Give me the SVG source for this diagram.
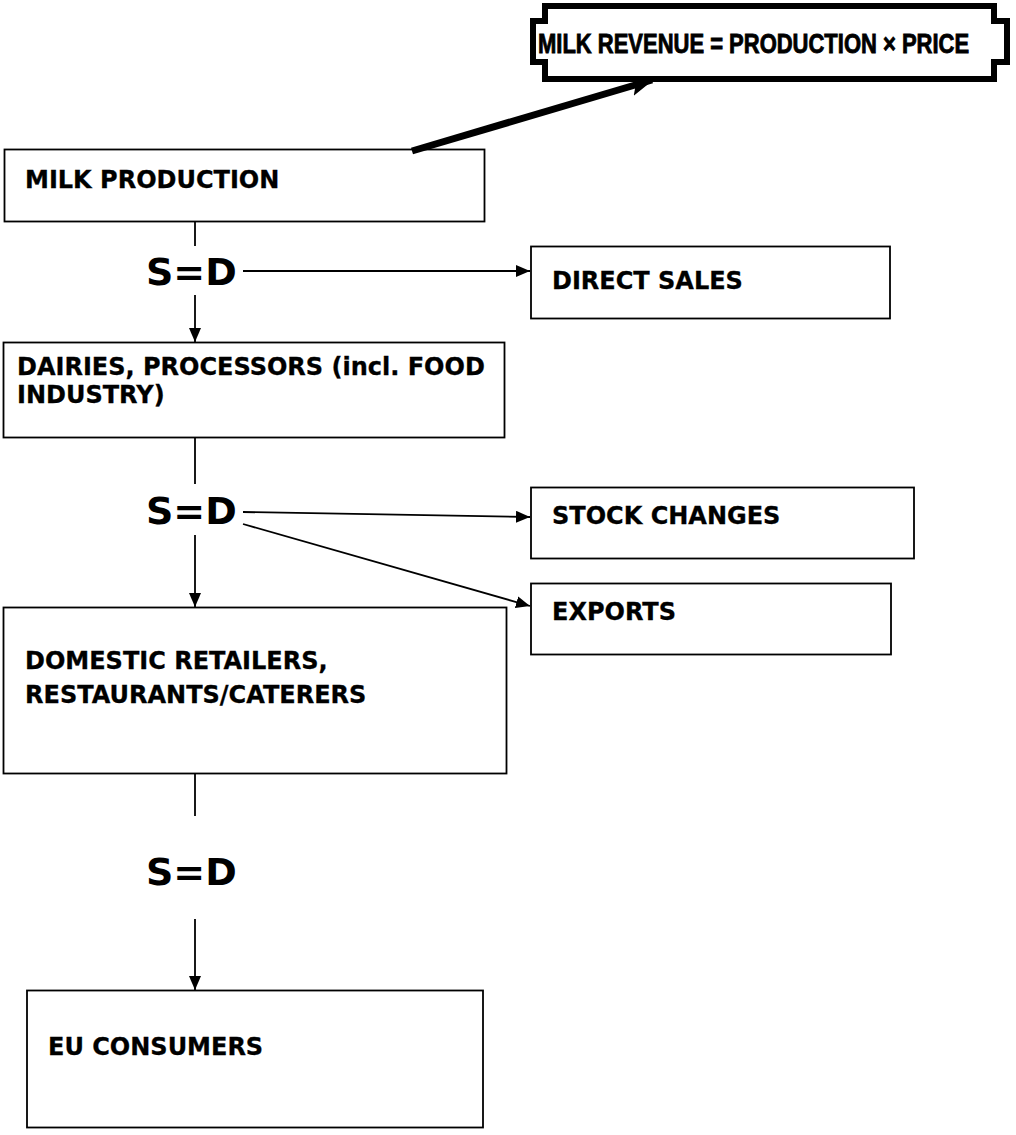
<svg xmlns="http://www.w3.org/2000/svg" width="1016" height="1135" viewBox="0 0 1016 1135">
<style>
.box{fill:#fff;stroke:#000;stroke-width:1.8}
.t{font-family:"DejaVu Sans","Verdana",sans-serif;font-weight:bold;font-size:24px;fill:#000;stroke:#000;stroke-width:0.3}
.sd{font-family:"DejaVu Sans","Verdana",sans-serif;font-weight:bold;font-size:38px;fill:#000}
.ln{stroke:#000;stroke-width:1.8;fill:none}
.bn{font-family:"Liberation Sans",Arial,sans-serif;font-weight:bold;font-size:22px;fill:#000;stroke:#000;stroke-width:0.7}
</style>
<defs>
<marker id="ah" viewBox="0 0 14 12" refX="14" refY="6" markerWidth="14" markerHeight="12" markerUnits="userSpaceOnUse" orient="auto">
<path d="M0,0 L14,6 L0,12 Z" fill="#000"/>
</marker>
<marker id="ahb" viewBox="0 0 24 20" refX="22" refY="10" markerWidth="24" markerHeight="20" markerUnits="userSpaceOnUse" orient="auto">
<path d="M0,0 L24,10 L0,20 L5,10 Z" fill="#000"/>
</marker>
</defs>
<g id="banner">
<path d="M545,6 H994 V21 H1007 V62 H994 V79 H545 V62 H533 V21 H545 Z" fill="#fff" stroke="#000" stroke-width="6"/>
<text class="bn" transform="translate(538,53) scale(1,1.22)" x="0" y="0">MILK REVENUE = PRODUCTION × PRICE</text>
</g>
<g id="milk-production">
<rect class="box" x="4.5" y="149.5" width="480" height="72"/>
<text class="t" x="25" y="188">MILK PRODUCTION</text>
</g>
<g id="direct-sales">
<rect class="box" x="531" y="246.5" width="359" height="72"/>
<text class="t" x="552" y="289">DIRECT SALES</text>
</g>
<g id="dairies">
<rect class="box" x="3.5" y="342.5" width="501" height="95"/>
<text class="t" x="17" y="375">DAIRIES, PROCESSORS (incl. FOOD</text>
<text class="t" x="17" y="403">INDUSTRY)</text>
</g>
<g id="stock-changes">
<rect class="box" x="531" y="487.5" width="383" height="71"/>
<text class="t" x="552" y="524">STOCK CHANGES</text>
</g>
<g id="exports">
<rect class="box" x="531" y="583.5" width="360" height="71"/>
<text class="t" x="552" y="620">EXPORTS</text>
</g>
<g id="domestic">
<rect class="box" x="3.5" y="607.5" width="503" height="166"/>
<text class="t" x="25" y="669">DOMESTIC RETAILERS,</text>
<text class="t" x="25" y="703">RESTAURANTS/CATERERS</text>
</g>
<g id="eu-consumers">
<rect class="box" x="27" y="990.5" width="456" height="137"/>
<text class="t" x="48" y="1055">EU CONSUMERS</text>
</g>
<g id="labels">
<text class="sd" x="146" y="285">S=D</text>
<text class="sd" x="146" y="524">S=D</text>
<text class="sd" x="146" y="885">S=D</text>
</g>
<g id="connectors">
<line x1="412" y1="151" x2="652" y2="80" stroke="#000" stroke-width="7" marker-end="url(#ahb)"/>
<line class="ln" x1="195" y1="222" x2="195" y2="246"/>
<line class="ln" x1="243" y1="271" x2="530" y2="271" marker-end="url(#ah)"/>
<line class="ln" x1="195" y1="295" x2="195" y2="342" marker-end="url(#ah)"/>
<line class="ln" x1="195" y1="438" x2="195" y2="484"/>
<line class="ln" x1="243" y1="512" x2="530" y2="517" marker-end="url(#ah)"/>
<line class="ln" x1="243" y1="524" x2="530" y2="606" marker-end="url(#ah)"/>
<line class="ln" x1="195" y1="535" x2="195" y2="607" marker-end="url(#ah)"/>
<line class="ln" x1="195" y1="774" x2="195" y2="816"/>
<line class="ln" x1="195" y1="919" x2="195" y2="990" marker-end="url(#ah)"/>
</g>
</svg>
